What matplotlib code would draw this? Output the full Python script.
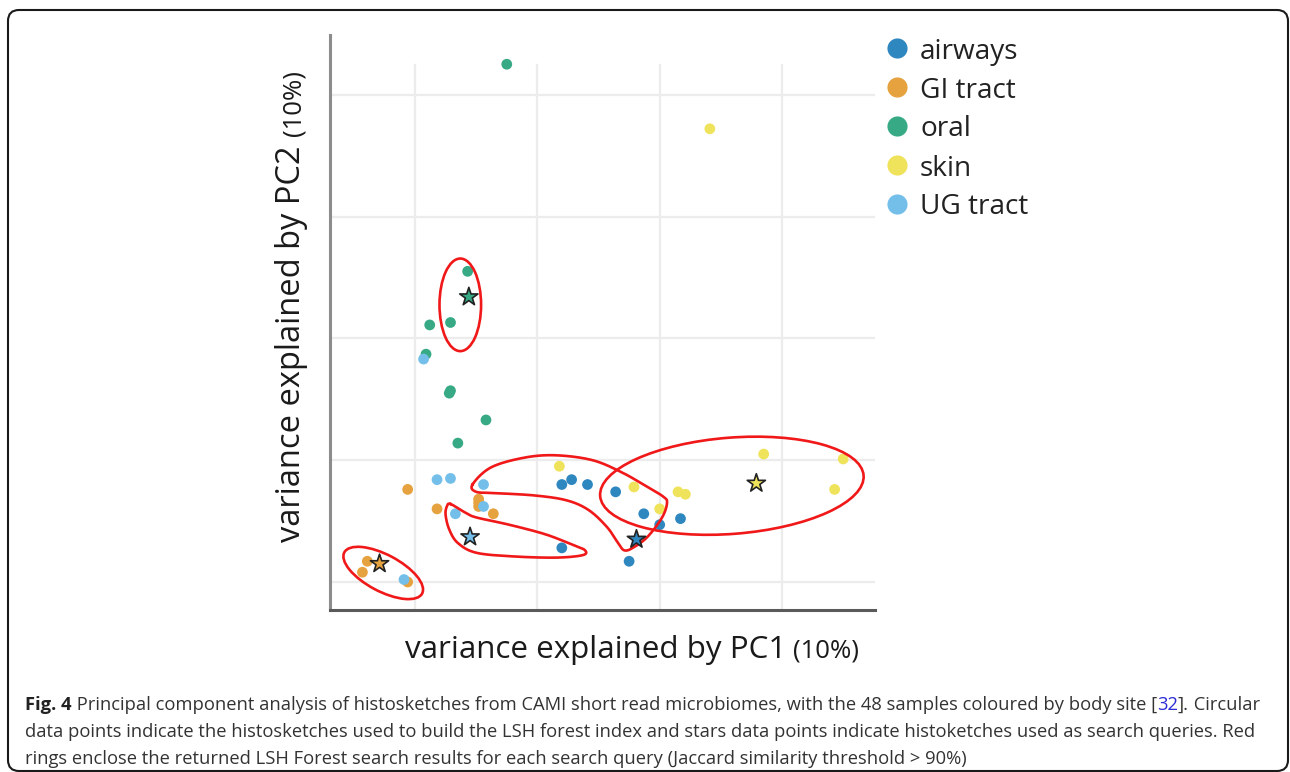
import matplotlib
matplotlib.use('Agg')
import matplotlib.pyplot as plt
import numpy as np
from matplotlib.patches import Ellipse, FancyBboxPatch
from matplotlib.lines import Line2D

plt.rcParams['font.family'] = ['Open Sans', 'DejaVu Sans']

# ---------------- data ----------------
groups = ['airways', 'GI tract', 'oral', 'skin', 'UG tract']
group_colors = ['#2f87c0', '#e6a23e', '#37aa85', '#efe35c', '#74bfea']

airways_x = [1.20, 1.28, 1.41, 1.64, 1.87, 2.00, 2.17, 1.20, 1.75]
airways_y = [0.80, 0.84, 0.80, 0.74, 0.56, 0.47, 0.52, 0.28, 0.17]

gi_x = [-0.06, 0.52, 0.52, 0.52, 0.18, 0.64, -0.39, -0.43, -0.06]
gi_y = [0.76, 0.68, 0.65, 0.62, 0.60, 0.56, 0.17, 0.08, 0.00]

oral_x = [0.75, 0.43, 0.12, 0.29, 0.09, 0.29, 0.28, 0.58, 0.35]
oral_y = [4.25, 2.55, 2.11, 2.13, 1.87, 1.57, 1.55, 1.33, 1.14]

skin_x = [2.41, 1.18, 1.79, 2.15, 2.21, 2.00, 2.85, 3.50, 3.43]
skin_y = [3.72, 0.95, 0.78, 0.74, 0.72, 0.60, 1.05, 1.01, 0.76]

ug_x = [0.07, 0.18, 0.29, 0.56, 0.56, 0.33, -0.09]
ug_y = [1.83, 0.84, 0.85, 0.80, 0.62, 0.56, 0.02]

# query (star) samples: one per body site
star_groups = ['airways', 'GI tract', 'oral', 'skin', 'UG tract']
star_x = [1.81, -0.29, 0.44, 2.79, 0.45]
star_y = [0.35, 0.15, 2.34, 0.81, 0.37]

# search-result rings (ellipses): centre x, centre y, width, height, angle
ring_cx = [0.37, -0.26, 2.59]
ring_cy = [2.275, 0.074, 0.79]
ring_w = [0.34, 0.72, 2.16]
ring_h = [0.76, 0.30, 0.79]
ring_ang = [0, -28, 4.5]

# free-hand rings (outline points)
loop_airways_x = [0.47, 0.62, 0.89, 1.15, 1.45, 1.69, 1.90, 2.03, 2.06, 2.02,
                  1.90, 1.78, 1.71, 1.66, 1.57, 1.42, 1.24, 0.98, 0.65, 0.50]
loop_airways_y = [0.80, 0.94, 1.02, 1.04, 1.00, 0.90, 0.78, 0.70, 0.65, 0.53,
                  0.37, 0.28, 0.26, 0.32, 0.45, 0.59, 0.67, 0.71, 0.73, 0.74]
loop_ug_x = [0.29, 0.41, 0.50, 0.77, 1.07, 1.30, 1.39, 1.37, 1.15, 0.80,
             0.50, 0.35, 0.28, 0.25, 0.26]
loop_ug_y = [0.64, 0.57, 0.53, 0.47, 0.39, 0.30, 0.26, 0.22, 0.20, 0.21,
             0.24, 0.32, 0.43, 0.55, 0.62]

x_ticks = [0, 1, 2, 3]
y_ticks = [0, 1, 2, 3, 4]

series_x = [airways_x, gi_x, oral_x, skin_x, ug_x]
series_y = [airways_y, gi_y, oral_y, skin_y, ug_y]


def smooth_closed(xs, ys, n=24):
    P = np.column_stack([xs, ys]).astype(float)
    m = len(P)
    t = np.linspace(0, 1, n, endpoint=False)[:, None]
    segs = []
    for i in range(m):
        p0, p1, p2, p3 = P[(i - 1) % m], P[i], P[(i + 1) % m], P[(i + 2) % m]
        segs.append(0.5 * ((2 * p1) + (-p0 + p2) * t
                           + (2 * p0 - 5 * p1 + 4 * p2 - p3) * t ** 2
                           + (-p0 + 3 * p1 - 3 * p2 + p3) * t ** 3))
    out = np.vstack(segs)
    out = np.vstack([out, out[:1]])
    return out[:, 0], out[:, 1]


W, H = 1290, 772
fig = plt.figure(figsize=(W / 100, H / 100), dpi=100)
fig.patch.set_facecolor('white')

ax = fig.add_axes([330 / W, 1 - 610 / H, 545 / W, 575 / H])
ax.set_xlim(-0.695, 3.76)
ax.set_ylim(-0.23, 4.49)
ax.set_xticks(x_ticks)
ax.set_yticks(y_ticks)
ax.tick_params(length=0, labelbottom=False, labelleft=False)
for s in ['top', 'right']:
    ax.spines[s].set_visible(False)
ax.spines['left'].set_color('#8c8c8c')
ax.spines['left'].set_linewidth(2.2)
ax.spines['bottom'].set_color('#5a5a5a')
ax.spines['bottom'].set_linewidth(2.2)

grid_c = '#ececec'
for yv in y_ticks:
    ax.axhline(yv, color=grid_c, lw=1.6, zorder=0)
vtop = (4.24 - (-0.23)) / (4.49 - (-0.23))
for xv in x_ticks:
    ax.axvline(xv, ymin=0, ymax=vtop, color=grid_c, lw=1.6, zorder=0)

for g, c, xs, ys in zip(groups, group_colors, series_x, series_y):
    ax.scatter(xs, ys, s=60, color=c, edgecolors='none', zorder=3, label=g)

cmap = dict(zip(groups, group_colors))
ax.scatter(star_x, star_y, marker='*', s=190,
           c=[cmap[g] for g in star_groups], edgecolors='#222222',
           linewidths=1.2, zorder=5)

ring_col = '#f01818'
for cx, cy, w, h, a in zip(ring_cx, ring_cy, ring_w, ring_h, ring_ang):
    ax.add_patch(Ellipse((cx, cy), w, h, angle=a, fill=False,
                         ec=ring_col, lw=1.9, zorder=4))
for lx, ly in [(loop_airways_x, loop_airways_y), (loop_ug_x, loop_ug_y)]:
    sx, sy = smooth_closed(lx, ly)
    ax.plot(sx, sy, color=ring_col, lw=1.9, zorder=4)

# ---------------- legend ----------------
leg_y0 = 48
leg_dy = 39
for i, (g, c) in enumerate(zip(groups, group_colors)):
    yp = 1 - (leg_y0 + i * leg_dy) / H
    fig.add_artist(Line2D([897 / W], [yp], marker='o', markersize=14.5,
                          color=c, markeredgewidth=0, linestyle='none',
                          transform=fig.transFigure))
    fig.text(920 / W, yp, g, fontsize=20.2, color='#222222',
             ha='left', va='center_baseline')

# ---------------- axis labels ----------------
fig.canvas.draw()
r = fig.canvas.get_renderer()

sub_fs = 18.5
xl = fig.text(405 / W, 1 - 658 / H, 'variance explained by PC1', fontsize=22.6,
              color='#1a1a1a', ha='left', va='baseline')
bb = xl.get_window_extent(renderer=r)
fig.text((bb.x1 + 7) / W, 1 - 658 / H, '(10%)', fontsize=sub_fs, color='#1a1a1a',
         ha='left', va='baseline')

yl = fig.text(300 / W, 1 - 542 / H, 'variance explained by PC2', fontsize=23.5,
              color='#1a1a1a', rotation=90, ha='left', va='baseline',
              rotation_mode='anchor')
bb = yl.get_window_extent(renderer=r)
fig.text(300 / W, (bb.y1 + 9) / H, '(10%)', fontsize=sub_fs, color='#1a1a1a',
         rotation=90, ha='left', va='baseline', rotation_mode='anchor')

# ---------------- caption ----------------
cap_fs = 13.2
cap_col = '#333333'
line1 = [('Fig. 4', 'bold', '#222222'),
         (' Principal component analysis of histosketches from CAMI short read '
          'microbiomes, with the 48 samples coloured by body site [', 'normal', cap_col),
         ('32', 'normal', '#2b2bd6'),
         ('].', 'normal', cap_col),
         (' Circular', 'normal', cap_col)]
line2 = [('data points indicate the histosketches used to build the LSH forest index '
          'and stars data points indicate histoketches used as search queries. Red',
          'normal', cap_col)]
line3 = [('rings enclose the returned LSH Forest search results for each search '
          'query (Jaccard similarity threshold > 90%)', 'normal', cap_col)]

for line, base in [(line1, 710), (line2, 737), (line3, 764)]:
    xpos = 25
    for txt, wt, col in line:
        t = fig.text(xpos / W, 1 - base / H, txt, fontsize=cap_fs, fontweight=wt,
                     color=col, ha='left', va='baseline')
        xpos = t.get_window_extent(renderer=r).x1

# ---------------- frame ----------------
fig.add_artist(FancyBboxPatch((8, 1), 1280, 761,
                              boxstyle='round,pad=0,rounding_size=11',
                              transform=None, fill=False, ec='#1a1a1a', lw=1.5))

fig.savefig('out.png', dpi=100, facecolor='white')
